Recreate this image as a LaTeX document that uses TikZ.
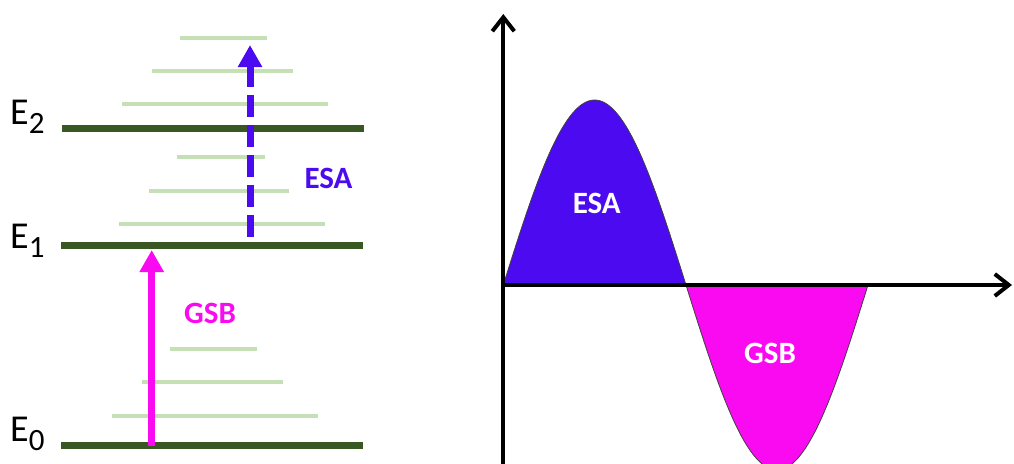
\documentclass[tikz,border=0pt]{standalone}
\usepackage{fontspec}
\setmainfont{Carlito}
\usetikzlibrary{arrows.meta}
\definecolor{levelgreen}{HTML}{385723}
\definecolor{vibgreen}{HTML}{C5E0B4}
\definecolor{esapurple}{HTML}{4B0AF0}
\definecolor{gsbpink}{HTML}{F90AF0}
\tikzset{
  level/.style={levelgreen, line width=6.5pt},
  sublevel/.style={vibgreen, line width=4pt},
  transition/.style={line width=7pt, -{Triangle[length=22pt,width=23pt]}},
  axis/.style={line width=4pt, -{Straight Barb[length=14pt,width=22pt]}},
  elabel/.style={anchor=base west, inner sep=0pt, font=\fontsize{38}{38}\selectfont},
  tag/.style={inner sep=0pt, font=\fontsize{31}{31}\selectfont\bfseries},
  lobe/.style={draw=black!75, line width=0.8pt},
}
\newcommand{\lvlsub}[1]{\raisebox{-9pt}{\fontsize{31}{31}\selectfont #1}}
\begin{document}
\begin{tikzpicture}[x=1pt, y=-1pt]
  \clip (0,0) rectangle (1014,463);
  % vibrational sublevels
  \foreach \y/\a/\b in {37.7/180/267, 71/152/293, 104.3/122/328,
    157.3/177/265, 190.7/149/289, 224/119/325,
    349/170/257, 382.3/142/283, 415.7/112/318}
    \draw[sublevel] (\a,\y) -- (\b,\y); %
  % electronic levels
  \draw[level] (62,128.7) -- (364,128.7); %
  \draw[level] (61,245.7) -- (363,245.7); %
  \draw[level] (61,445.7) -- (363,445.7); %
  \node[elabel] (e2) at (10,124.5) {E\lvlsub{2}};
  \node[elabel] (e1) at (10,248) {E\lvlsub{1}};
  \node[elabel] (e0) at (10,441.7) {E\lvlsub{0}};
  \coordinate (gsbfrom) at (151.7,445.7);
  \coordinate (gsbto) at (151.7,250);
  \coordinate (esafrom) at (250,236.7);
  \coordinate (esato) at (250,45);
  \draw[transition, gsbpink] (gsbfrom) -- (gsbto); %
  \draw[transition, esapurple, dash pattern=on 22pt off 8pt] (esafrom) -- (esato); %
  \node[tag, esapurple] (esatag) at (328.5,178) {ESA};
  \node[tag, gsbpink] (gsbtag) at (210,313) {GSB};
  % signal
  \filldraw[lobe, fill=esapurple] plot[domain=503.3:686, samples=80]
    (\x, {285-185*sin((\x-503.3)/182.7*180)}) -- cycle; %
  \filldraw[lobe, fill=gsbpink] plot[domain=686:868, samples=80]
    (\x, {285+185*sin((\x-686)/182*180)}) -- cycle; %
  \node[tag, white] (esafill) at (596.7,203) {ESA};
  \node[tag, white] (gsbfill) at (770,353) {GSB};
  \coordinate (origin) at (503.3,285);
  \coordinate (xend) at (1012,285);
  \coordinate (ybot) at (503.3,470);
  \coordinate (ytop) at (503.3,14);
  \draw[axis] (origin) -- (xend); %
  \draw[axis] (ybot) -- (ytop); %
\end{tikzpicture}
\end{document}
